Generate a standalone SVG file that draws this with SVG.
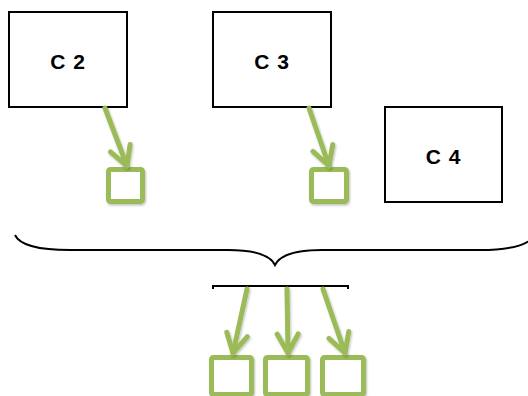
<svg xmlns="http://www.w3.org/2000/svg" width="528" height="396" viewBox="0 0 528 396">
<style>
.box{fill:#fff;stroke:#000;stroke-width:2}
.lbl{font-family:"Liberation Sans",Arial,sans-serif;font-weight:bold;font-size:21px;letter-spacing:1px;fill:#000;text-anchor:middle}
.sq{fill:#fff;stroke:#9BBB59;stroke-width:5;rx:2}
.arr{fill:none;stroke:#9BBB59;stroke-width:5;stroke-linecap:round;marker-end:url(#ah)}
.brace{fill:none;stroke:#000;stroke-width:2}
</style>
<defs>
<marker id="ah" markerUnits="userSpaceOnUse" markerWidth="30" markerHeight="30" viewBox="-22 -15 30 30" refX="0" refY="0" orient="auto" overflow="visible">
<path d="M-19,-10.5 L0,0 L-19,10.5" fill="none" stroke="#9BBB59" stroke-width="5" stroke-linecap="round" stroke-linejoin="round"/>
</marker>
<filter id="sh" x="-30%" y="-30%" width="160%" height="160%">
<feDropShadow dx="1" dy="1.5" stdDeviation="1.2" flood-color="#000" flood-opacity="0.25"/>
</filter>
</defs>
<g id="c2"><rect class="box" x="9" y="12" width="118" height="95"/><text class="lbl" x="68" y="69">C 2</text></g>
<g id="c3"><rect class="box" x="213" y="12" width="118" height="95"/><text class="lbl" x="272" y="69">C 3</text></g>
<g id="c4"><rect class="box" x="385" y="107" width="117" height="95"/><text class="lbl" x="443.5" y="164">C 4</text></g>
<g id="s1" filter="url(#sh)"><rect class="sq" x="108.5" y="169.5" width="34" height="32"/></g>
<g id="s2" filter="url(#sh)"><rect class="sq" x="311.5" y="169.5" width="35" height="32"/></g>
<g id="b1" filter="url(#sh)"><rect class="sq" x="211.5" y="357.5" width="40" height="37"/></g>
<g id="b2" filter="url(#sh)"><rect class="sq" x="265.5" y="357.5" width="42" height="37"/></g>
<g id="b3" filter="url(#sh)"><rect class="sq" x="322.5" y="357.5" width="41" height="37"/></g>
<g id="brace"><path class="brace" d="M15,235 C20,246 42,250 70,250 L228,250 C255,250 270,255 275,265 C280,255 295,250 322,250 L480,250 C508,250 528,246 535,235"/></g>
<g id="bar"><path d="M213,289 L213,286 L348,286 L348,289" fill="none" stroke="#000" stroke-width="2"/></g>
<g id="connectors" filter="url(#sh)">
<path class="arr" d="M105,108 L127,166"/>
<path class="arr" d="M309,108 L329,166"/>
<path class="arr" d="M247,289 L233,353"/>
<path class="arr" d="M287,289 L288,353"/>
<path class="arr" d="M323,289 L345,353"/>
</g>
</svg>
